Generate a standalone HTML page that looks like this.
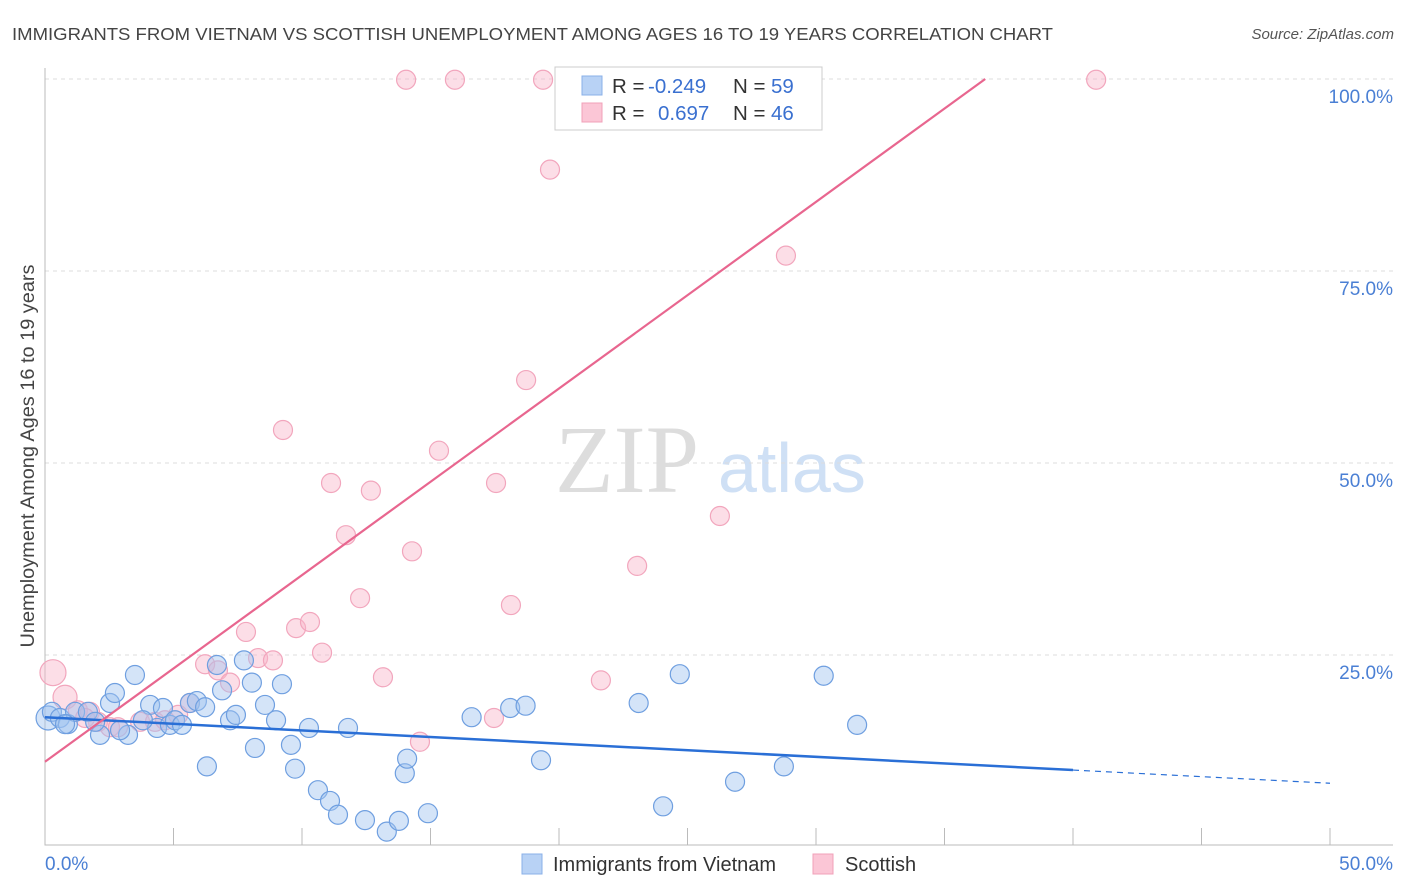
<!DOCTYPE html>
<html><head><meta charset="utf-8"><style>
body{margin:0;background:#fff;font-family:"Liberation Sans",sans-serif}
svg{display:block}
</style></head><body>
<svg width="1406" height="892" id="chart" xmlns="http://www.w3.org/2000/svg">
<text x="12" y="40" font-size="17.5" fill="#444" textLength="1041" lengthAdjust="spacingAndGlyphs">IMMIGRANTS FROM VIETNAM VS SCOTTISH UNEMPLOYMENT AMONG AGES 16 TO 19 YEARS CORRELATION CHART</text>
<text x="1394" y="39" font-size="15" fill="#555" font-style="italic" text-anchor="end">Source: ZipAtlas.com</text>
<text x="555" y="492" font-size="96" fill="#ddd" font-family="Liberation Serif,serif">ZIP</text>
<text x="718" y="492" font-size="70" fill="#cfe0f5">atlas</text>
<g id="grid"></g>
<g id="pts"></g>
<g id="lines"></g>
<text x="34" y="456" font-size="19" fill="#444" transform="rotate(-90 34 456)" text-anchor="middle" textLength="383" lengthAdjust="spacingAndGlyphs">Unemployment Among Ages 16 to 19 years</text>
<text x="45" y="870" font-size="19" fill="#4a7fd4">0.0%</text>
<text x="1393" y="870" font-size="19" fill="#4a7fd4" text-anchor="end">50.0%</text>
<g>
<rect x="555" y="67" width="267" height="63" fill="#fff" stroke="#ccc"/>
<rect x="582" y="76" width="20" height="19" fill="#b8d2f5" stroke="#8ab0e8"/>
<rect x="582" y="103" width="20" height="19" fill="#fbc6d6" stroke="#f0a0b8"/>
<text x="612" y="93" font-size="20.5" fill="#333">R = <tspan x="648" fill="#3a70d0">-0.249</tspan><tspan x="733">N = </tspan><tspan x="771" fill="#3a70d0">59</tspan></text>
<text x="612" y="120" font-size="20.5" fill="#333">R = <tspan x="658" fill="#3a70d0">0.697</tspan><tspan x="733">N = </tspan><tspan x="771" fill="#3a70d0">46</tspan></text>
</g>
<g>
<rect x="522" y="854" width="20" height="20" fill="#b8d2f5" stroke="#8ab0e8"/>
<text x="553" y="871" font-size="20" fill="#333">Immigrants from Vietnam</text>
<rect x="813" y="854" width="20" height="20" fill="#fbc6d6" stroke="#f0a0b8"/>
<text x="845" y="871" font-size="20" fill="#333">Scottish</text>
</g>
</svg>
<script>
const blueX=[0.12,0.27,0.58,0.89,1.17,1.67,2.14,2.53,2.72,3.23,3.5,4.09,4.36,4.59,4.86,5.06,5.33,5.64,5.91,6.23,6.3,6.69,6.89,7.2,7.43,7.74,8.05,8.17,8.56,8.99,9.22,9.57,9.73,10.27,10.62,11.09,11.4,11.79,12.45,13.3,13.77,14.0,14.09,14.9,16.6,18.1,18.7,19.3,23.1,24.05,24.7,26.85,28.75,30.3,31.6,0.78,1.95,3.81,2.92];
const blueY=[16.8,17.6,16.8,16.0,17.6,17.6,14.6,18.75,20.05,14.6,22.4,18.5,15.5,18.1,15.9,16.5,15.9,18.75,19.0,18.2,10.5,23.7,20.4,16.5,17.2,24.3,21.4,12.9,18.5,16.5,21.2,13.3,10.2,15.5,7.4,6.0,4.2,15.5,3.5,2.0,3.4,9.6,11.5,4.4,16.9,18.1,18.4,11.3,18.75,5.3,22.5,8.5,10.5,22.3,15.9,16.0,16.3,16.5,15.2];
const pinkX=[0.31,0.78,1.28,1.75,2.06,2.53,2.84,3.7,4.28,4.67,5.18,5.64,6.23,6.73,7.2,7.82,8.29,8.87,9.26,9.77,10.31,10.78,11.13,11.71,12.26,12.68,13.15,14.28,14.59,15.33,14.05,15.95,17.47,17.55,18.13,18.72,19.38,19.65,20.74,21.63,22.92,23.04,26.26,28.83,40.9,1.56];
const pinkY=[22.7,19.5,17.8,17.6,16.3,15.6,15.6,16.3,16.3,16.5,17.2,18.75,23.8,23.0,21.4,28.0,24.6,24.3,54.3,28.5,29.3,25.3,47.4,40.6,32.4,46.4,22.1,38.5,13.7,51.6,99.9,99.9,16.8,47.4,31.5,60.8,99.9,88.2,99.9,21.7,99.9,36.6,43.1,77.0,99.9,16.8];
const blueTrend=[16.9,8.3]; // y at x=0 and x=50
const pinkTrend=[11.1,2.43]; // intercept, slope
const yTicks=[25,50,75,100];
const yTickLabels=["25.0%","50.0%","75.0%","100.0%"];
const xTicks=[5,10,15,20,25,30,35,40,45,50];
const NS="http://www.w3.org/2000/svg";
const sx=v=>45+v*25.7, sy=v=>847-v*7.68;
function mk(t,a,p){const e=document.createElementNS(NS,t);for(const k in a)e.setAttribute(k,a[k]);p.appendChild(e);return e;}
const grid=document.getElementById('grid'),pts=document.getElementById('pts'),lines=document.getElementById('lines');
yTicks.forEach((v,i)=>{
 const l=mk('line',{x1:45,x2:1393,y1:sy(v),y2:sy(v),stroke:'#ddd','stroke-dasharray':'4,4'},grid);
 
 
 const t=mk('text',{x:1393,y:sy(v)+24,'font-size':19,fill:'#4a7fd4','text-anchor':'end'},grid);
 t.textContent=yTickLabels[i];
 
 
});
xTicks.forEach(v=>{
 const l=mk('line',{x1:sx(v),x2:sx(v),y1:828,y2:845,stroke:'#bbb'},grid);
 
 
});
const ax=mk('path',{d:'M45 68V845H1393',fill:'none',stroke:'#bbb'},grid);


pinkX.forEach((x,i)=>{
 const r=i===0?13:(i===1?12:9.5);
 const c=mk('circle',{cx:sx(x),cy:sy(pinkY[i]),r:r,fill:'rgba(248,182,202,0.45)',stroke:'#f2a6bd','stroke-width':1.2},pts);
 
 
});
blueX.forEach((x,i)=>{
 const r=i===0?12:9.5;
 const c=mk('circle',{cx:sx(x),cy:sy(blueY[i]),r:r,fill:'rgba(160,196,240,0.45)',stroke:'#6f9fe0','stroke-width':1.2},pts);
 
 
});
const by=x=>blueTrend[0]+(blueTrend[1]-blueTrend[0])*x/50;
const b1=mk('line',{x1:sx(0),y1:sy(by(0)),x2:sx(40),y2:sy(by(40)),stroke:'#2a6fd6','stroke-width':2.5},lines);


const b2=mk('line',{x1:sx(40),y1:sy(by(40)),x2:sx(50),y2:sy(by(50)),stroke:'#2a6fd6','stroke-width':1.2,'stroke-dasharray':'6,5'},lines);


const xEnd=(100-pinkTrend[0])/pinkTrend[1];
const p1=mk('line',{x1:sx(0),y1:sy(pinkTrend[0]),x2:sx(xEnd),y2:sy(100),stroke:'#e8668f','stroke-width':2.2},lines);


</script>
</body></html>
